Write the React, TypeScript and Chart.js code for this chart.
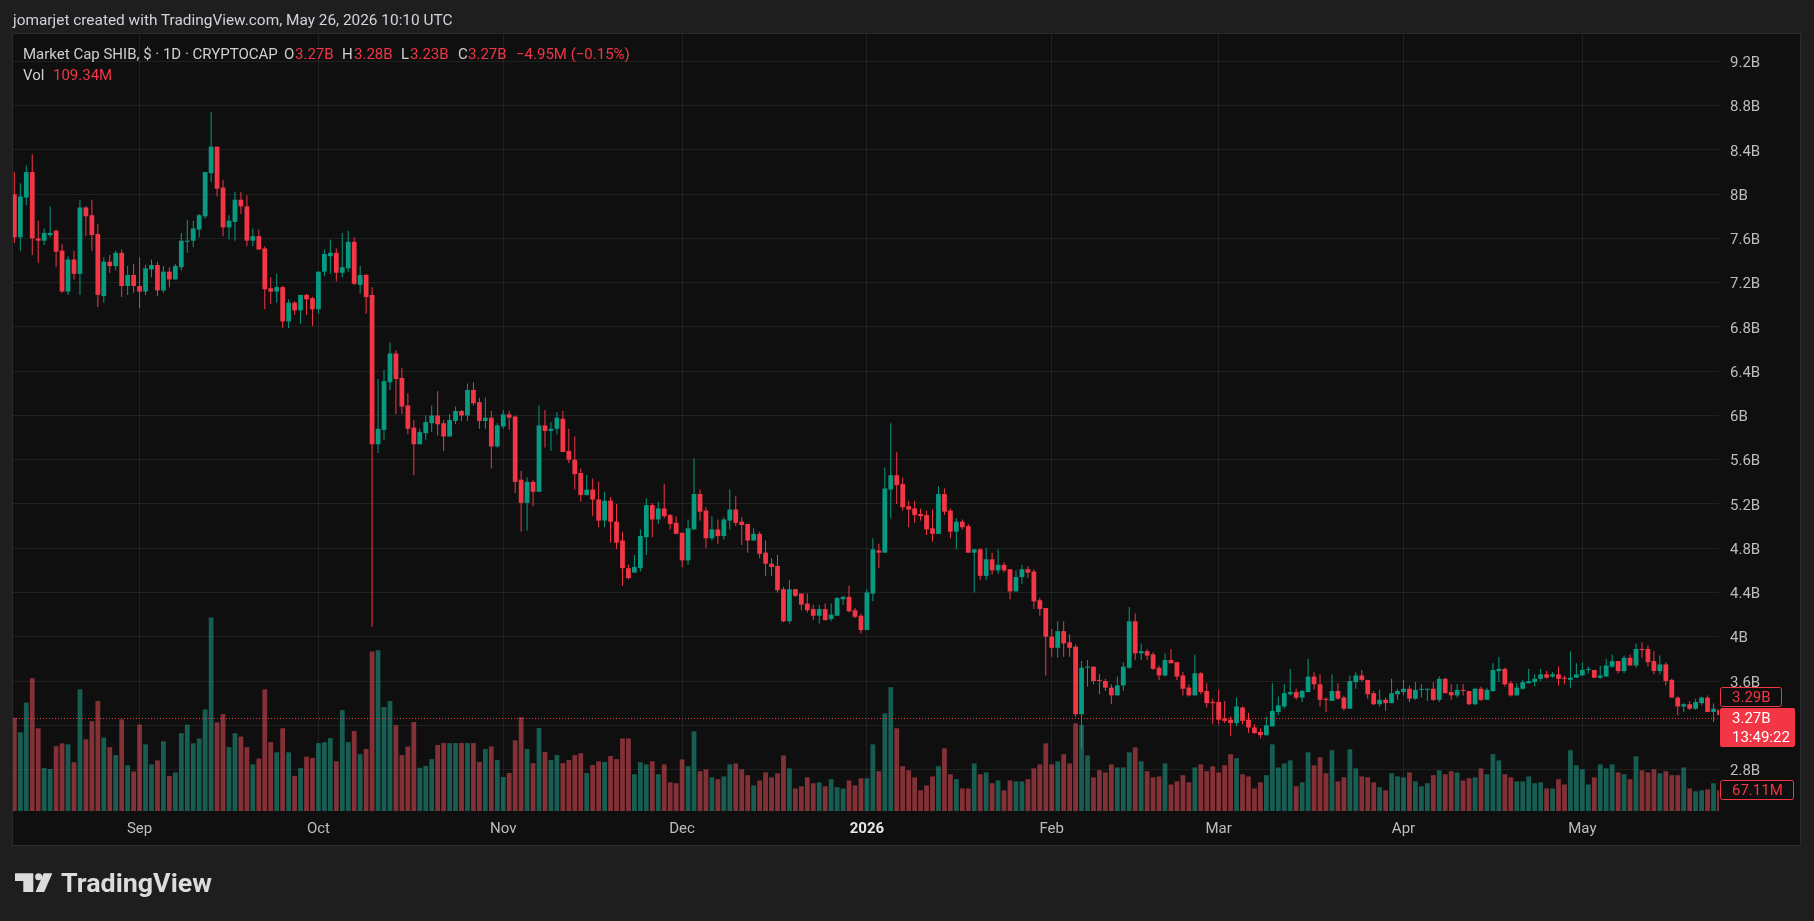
import React, { useEffect, useRef } from 'react';
import { Chart, registerables } from 'chart.js';

Chart.register(...registerables);

// Daily candles, index 0 = 2025-08-11, values in billions of USD
const OPEN = [
  8.00, 7.61, 7.97, 8.20, 7.60, 7.58, 7.63, 7.67, 7.49, 7.12,
  7.41, 7.28, 7.88, 7.81, 7.64, 7.08, 7.39, 7.35, 7.47, 7.17,
  7.27, 7.17, 7.12, 7.32, 7.36, 7.13, 7.30, 7.23, 7.34, 7.57,
  7.58, 7.68, 7.80, 8.19, 8.43, 8.06, 7.70, 7.75, 7.95, 7.89,
  7.58, 7.62, 7.51, 7.15, 7.12, 7.16, 6.85, 7.02, 6.95, 7.09,
  7.06, 6.96, 7.30, 7.44, 7.47, 7.29, 7.33, 7.57, 7.18, 7.27,
  7.09, 5.74, 5.87, 6.30, 6.56, 6.34, 6.09, 5.89, 5.74, 5.84,
  5.93, 6.00, 5.93, 5.81, 5.95, 6.04, 6.00, 6.23, 6.12, 5.95,
  5.98, 5.72, 5.90, 6.01, 5.99, 5.42, 5.21, 5.40, 5.31, 5.91,
  5.86, 5.88, 5.97, 5.68, 5.60, 5.48, 5.28, 5.33, 5.24, 5.05,
  5.23, 5.04, 4.87, 4.62, 4.58, 4.62, 4.90, 5.19, 5.06, 5.16,
  5.10, 5.03, 4.94, 4.69, 4.97, 5.29, 5.14, 4.89, 4.97, 4.91,
  5.05, 5.15, 5.04, 5.02, 4.87, 4.93, 4.76, 4.66, 4.64, 4.43,
  4.14, 4.43, 4.39, 4.30, 4.25, 4.19, 4.25, 4.16, 4.19, 4.34,
  4.36, 4.24, 4.19, 4.06, 4.39, 4.78, 4.76, 5.33, 5.46, 5.38,
  5.18, 5.16, 5.11, 5.10, 4.98, 4.93, 5.29, 5.14, 4.95, 5.04,
  5.00, 4.76, 4.79, 4.55, 4.70, 4.60, 4.65, 4.61, 4.41, 4.54,
  4.61, 4.59, 4.33, 4.26, 4.00, 3.90, 4.05, 3.95, 3.91, 3.30,
  3.72, 3.73, 3.61, 3.60, 3.54, 3.47, 3.56, 3.72, 4.14, 3.85,
  3.87, 3.84, 3.72, 3.65, 3.79, 3.77, 3.65, 3.54, 3.47, 3.67,
  3.51, 3.41, 3.41, 3.26, 3.25, 3.22, 3.36, 3.25, 3.18, 3.14,
  3.11, 3.19, 3.32, 3.37, 3.48, 3.50, 3.45, 3.50, 3.64, 3.57,
  3.44, 3.42, 3.51, 3.45, 3.35, 3.59, 3.65, 3.61, 3.49, 3.39,
  3.43, 3.40, 3.48, 3.50, 3.53, 3.44, 3.52, 3.52, 3.53, 3.43,
  3.62, 3.50, 3.47, 3.52, 3.51, 3.39, 3.53, 3.43, 3.51, 3.69,
  3.71, 3.58, 3.47, 3.53, 3.58, 3.59, 3.62, 3.66, 3.64, 3.66,
  3.63, 3.61, 3.63, 3.65, 3.70, 3.70, 3.63, 3.64, 3.73, 3.78,
  3.69, 3.81, 3.74, 3.89, 3.89, 3.78, 3.69, 3.75, 3.61, 3.45,
  3.37, 3.39, 3.35, 3.40, 3.45, 3.32, 3.34,
];

const HIGH = [
  8.20, 8.10, 8.26, 8.36, 7.76, 7.69, 7.89, 7.68, 7.55, 7.44,
  7.49, 7.95, 7.89, 7.95, 7.73, 7.43, 7.45, 7.49, 7.50, 7.35,
  7.37, 7.43, 7.36, 7.41, 7.39, 7.35, 7.34, 7.37, 7.65, 7.77,
  7.76, 7.82, 8.20, 8.74, 8.43, 8.13, 7.81, 8.02, 8.02, 7.99,
  7.69, 7.68, 7.53, 7.25, 7.28, 7.17, 7.05, 7.03, 7.09, 7.10,
  7.07, 7.30, 7.50, 7.59, 7.51, 7.65, 7.67, 7.61, 7.35, 7.28,
  7.16, 6.33, 6.41, 6.66, 6.59, 6.43, 6.20, 5.96, 5.88, 6.00,
  6.09, 6.22, 5.96, 6.01, 6.08, 6.05, 6.29, 6.30, 6.16, 6.16,
  6.04, 5.93, 6.05, 6.04, 6.00, 5.50, 5.44, 5.42, 6.09, 6.05,
  5.94, 6.03, 6.04, 5.88, 5.81, 5.52, 5.46, 5.43, 5.40, 5.31,
  5.26, 5.20, 4.95, 4.65, 4.74, 4.97, 5.25, 5.21, 5.22, 5.38,
  5.11, 5.09, 4.94, 5.06, 5.61, 5.33, 5.17, 5.09, 5.06, 5.08,
  5.33, 5.27, 5.08, 5.02, 4.98, 4.95, 4.87, 4.71, 4.74, 4.45,
  4.51, 4.43, 4.39, 4.39, 4.29, 4.29, 4.30, 4.30, 4.36, 4.37,
  4.46, 4.26, 4.21, 4.43, 4.89, 4.84, 5.53, 5.93, 5.67, 5.44,
  5.23, 5.23, 5.16, 5.14, 5.15, 5.36, 5.34, 5.16, 5.07, 5.06,
  5.02, 4.79, 4.80, 4.80, 4.76, 4.79, 4.67, 4.61, 4.60, 4.65,
  4.64, 4.61, 4.35, 4.26, 4.07, 4.14, 4.14, 4.02, 3.93, 3.78,
  3.79, 3.73, 3.66, 3.62, 3.57, 3.64, 3.77, 4.27, 4.21, 3.94,
  3.89, 3.86, 3.74, 3.85, 3.89, 3.77, 3.68, 3.57, 3.84, 3.68,
  3.58, 3.44, 3.52, 3.42, 3.28, 3.45, 3.37, 3.31, 3.21, 3.17,
  3.28, 3.58, 3.46, 3.57, 3.71, 3.53, 3.52, 3.80, 3.68, 3.66,
  3.45, 3.66, 3.58, 3.47, 3.65, 3.68, 3.70, 3.61, 3.51, 3.52,
  3.45, 3.62, 3.53, 3.61, 3.56, 3.59, 3.57, 3.53, 3.59, 3.64,
  3.63, 3.57, 3.57, 3.57, 3.51, 3.54, 3.55, 3.54, 3.76, 3.82,
  3.72, 3.60, 3.58, 3.61, 3.71, 3.66, 3.71, 3.69, 3.68, 3.73,
  3.65, 3.87, 3.76, 3.77, 3.73, 3.70, 3.74, 3.80, 3.84, 3.78,
  3.83, 3.84, 3.94, 3.95, 3.92, 3.87, 3.83, 3.77, 3.62, 3.46,
  3.40, 3.42, 3.44, 3.46, 3.47, 3.40, 3.35,
];

const LOW = [
  7.56, 7.49, 7.90, 7.45, 7.38, 7.54, 7.61, 7.34, 7.11, 7.09,
  7.23, 7.09, 7.62, 7.49, 6.98, 7.02, 7.29, 7.31, 7.07, 7.09,
  7.11, 6.97, 7.09, 7.25, 7.08, 7.11, 7.16, 7.23, 7.31, 7.47,
  7.52, 7.61, 7.78, 8.11, 7.98, 7.62, 7.59, 7.58, 7.82, 7.53,
  7.53, 7.50, 6.96, 7.01, 7.02, 6.79, 6.79, 6.91, 6.83, 6.91,
  6.81, 6.92, 7.26, 7.28, 7.21, 7.25, 7.30, 7.18, 7.10, 6.92,
  4.09, 5.66, 5.78, 6.23, 6.01, 6.01, 5.83, 5.46, 5.74, 5.78,
  5.85, 5.82, 5.68, 5.81, 5.92, 5.95, 5.95, 6.09, 5.88, 5.88,
  5.52, 5.71, 5.88, 5.87, 5.30, 4.95, 4.96, 5.18, 5.31, 5.71,
  5.68, 5.83, 5.67, 5.57, 5.33, 5.22, 5.28, 5.09, 4.99, 4.99,
  4.85, 4.79, 4.46, 4.52, 4.58, 4.59, 4.74, 4.90, 5.02, 5.07,
  4.97, 4.93, 4.63, 4.65, 4.97, 5.05, 4.80, 4.87, 4.84, 4.88,
  4.97, 5.00, 4.83, 4.76, 4.87, 4.71, 4.55, 4.55, 4.40, 4.13,
  4.12, 4.36, 4.24, 4.22, 4.15, 4.12, 4.15, 4.14, 4.19, 4.29,
  4.22, 4.17, 4.03, 4.06, 4.32, 4.62, 4.76, 5.07, 5.20, 5.14,
  4.99, 5.03, 5.05, 4.92, 4.86, 4.93, 5.10, 4.89, 4.79, 4.97,
  4.76, 4.40, 4.51, 4.51, 4.56, 4.57, 4.58, 4.34, 4.41, 4.48,
  4.53, 4.25, 4.19, 3.65, 3.82, 3.81, 3.82, 3.82, 3.28, 2.99,
  3.55, 3.57, 3.48, 3.51, 3.39, 3.47, 3.51, 3.71, 3.79, 3.79,
  3.79, 3.70, 3.61, 3.64, 3.76, 3.61, 3.47, 3.46, 3.47, 3.48,
  3.36, 3.21, 3.21, 3.22, 3.10, 3.19, 3.21, 3.13, 3.12, 3.08,
  3.11, 3.19, 3.29, 3.35, 3.47, 3.43, 3.41, 3.50, 3.52, 3.37,
  3.32, 3.42, 3.43, 3.33, 3.35, 3.53, 3.59, 3.44, 3.38, 3.37,
  3.33, 3.40, 3.43, 3.47, 3.41, 3.43, 3.45, 3.42, 3.42, 3.41,
  3.49, 3.43, 3.45, 3.47, 3.38, 3.38, 3.42, 3.43, 3.50, 3.59,
  3.55, 3.46, 3.47, 3.52, 3.58, 3.55, 3.60, 3.62, 3.63, 3.56,
  3.57, 3.54, 3.63, 3.65, 3.67, 3.63, 3.62, 3.64, 3.72, 3.67,
  3.67, 3.74, 3.72, 3.81, 3.73, 3.66, 3.66, 3.56, 3.45, 3.29,
  3.32, 3.34, 3.34, 3.38, 3.32, 3.23, 3.28,
];

const CLOSE = [
  7.61, 7.98, 8.20, 7.60, 7.58, 7.65, 7.65, 7.48, 7.12, 7.41,
  7.28, 7.88, 7.80, 7.63, 7.09, 7.39, 7.35, 7.47, 7.17, 7.27,
  7.17, 7.12, 7.33, 7.36, 7.13, 7.30, 7.23, 7.35, 7.58, 7.58,
  7.69, 7.81, 8.20, 8.43, 8.05, 7.70, 7.76, 7.95, 7.89, 7.58,
  7.62, 7.50, 7.14, 7.12, 7.16, 6.85, 7.02, 6.95, 7.09, 7.05,
  6.96, 7.30, 7.46, 7.47, 7.29, 7.34, 7.57, 7.19, 7.27, 7.07,
  5.74, 5.88, 6.31, 6.56, 6.33, 6.08, 5.88, 5.74, 5.85, 5.94,
  6.00, 5.92, 5.81, 5.96, 6.04, 6.00, 6.23, 6.11, 5.95, 5.98,
  5.72, 5.91, 6.01, 5.98, 5.40, 5.21, 5.40, 5.31, 5.91, 5.86,
  5.88, 5.98, 5.67, 5.60, 5.47, 5.28, 5.33, 5.24, 5.05, 5.23,
  5.04, 4.85, 4.62, 4.53, 4.63, 4.91, 5.19, 5.06, 5.16, 5.09,
  5.02, 4.93, 4.69, 4.98, 5.29, 5.13, 4.89, 4.97, 4.91, 5.06,
  5.15, 5.03, 5.01, 4.87, 4.93, 4.75, 4.66, 4.63, 4.42, 4.14,
  4.43, 4.37, 4.29, 4.24, 4.19, 4.25, 4.15, 4.20, 4.35, 4.36,
  4.23, 4.18, 4.06, 4.40, 4.79, 4.76, 5.34, 5.46, 5.37, 5.17,
  5.15, 5.10, 5.09, 4.97, 4.93, 5.29, 5.13, 4.95, 5.04, 4.99,
  4.76, 4.79, 4.55, 4.70, 4.60, 4.65, 4.60, 4.41, 4.54, 4.61,
  4.58, 4.32, 4.25, 4.00, 3.90, 4.05, 3.94, 3.90, 3.30, 3.72,
  3.73, 3.60, 3.60, 3.54, 3.47, 3.56, 3.73, 4.14, 3.85, 3.87,
  3.83, 3.71, 3.65, 3.79, 3.76, 3.64, 3.53, 3.47, 3.67, 3.50,
  3.40, 3.40, 3.25, 3.24, 3.22, 3.37, 3.24, 3.18, 3.13, 3.11,
  3.20, 3.33, 3.38, 3.49, 3.50, 3.45, 3.51, 3.64, 3.57, 3.43,
  3.43, 3.51, 3.44, 3.35, 3.60, 3.65, 3.61, 3.48, 3.39, 3.43,
  3.40, 3.49, 3.51, 3.53, 3.44, 3.52, 3.525, 3.53, 3.43, 3.62,
  3.49, 3.47, 3.52, 3.51, 3.39, 3.53, 3.43, 3.52, 3.70, 3.71,
  3.57, 3.47, 3.54, 3.59, 3.60, 3.62, 3.66, 3.63, 3.66, 3.62,
  3.62, 3.63, 3.66, 3.70, 3.71, 3.63, 3.65, 3.74, 3.78, 3.69,
  3.81, 3.74, 3.89, 3.88, 3.77, 3.69, 3.75, 3.60, 3.45, 3.37,
  3.39, 3.35, 3.41, 3.45, 3.32, 3.35, 3.29,
];

// Volume, millions of USD
const VOLUME = [
  302, 255, 351, 430, 268, 139, 136, 210, 219, 216,
  158, 394, 232, 291, 356, 238, 207, 181, 297, 148,
  128, 280, 216, 151, 164, 226, 113, 125, 252, 280,
  219, 235, 329, 627, 287, 314, 207, 252, 241, 207,
  151, 170, 394, 223, 190, 268, 190, 113, 139, 176,
  172, 220, 223, 236, 161, 327, 223, 259, 184, 201,
  517, 521, 337, 356, 278, 181, 209, 288, 140, 146,
  168, 214, 220, 220, 220, 220, 220, 220, 159, 201,
  209, 165, 110, 123, 229, 304, 201, 155, 269, 191,
  165, 181, 155, 165, 181, 187, 123, 149, 161, 159,
  178, 168, 235, 235, 119, 158, 151, 161, 119, 151,
  93, 90, 167, 145, 258, 129, 135, 109, 103, 112,
  151, 154, 135, 116, 83, 99, 125, 109, 122, 180,
  138, 73, 80, 109, 90, 93, 80, 103, 77, 73,
  99, 83, 106, 106, 216, 129, 316, 401, 268, 145,
  132, 109, 67, 83, 112, 145, 203, 119, 103, 73,
  73, 154, 119, 125, 90, 99, 67, 99, 96, 96,
  103, 138, 151, 219, 151, 161, 184, 154, 284, 278,
  180, 109, 132, 125, 151, 141, 141, 190, 206, 161,
  129, 109, 112, 154, 86, 96, 116, 93, 141, 151,
  129, 145, 125, 148, 184, 171, 119, 112, 73, 93,
  116, 216, 141, 154, 164, 80, 93, 190, 148, 174,
  122, 197, 96, 109, 200, 138, 112, 109, 93, 77,
  67, 122, 112, 109, 125, 96, 80, 90, 116, 132,
  119, 129, 125, 99, 106, 109, 138, 119, 184, 164,
  119, 109, 96, 96, 112, 90, 93, 73, 73, 103,
  86, 197, 148, 135, 86, 109, 151, 138, 151, 125,
  119, 103, 177, 132, 125, 135, 122, 129, 116, 116,
  141, 73, 64, 67, 70, 90, 67,
];

// Time axis: candle index of the first day of each month
const MONTH_TICKS = [21, 51, 82, 112, 143, 174, 202, 233, 263];
const MONTH_LABELS = ['Sep', 'Oct', 'Nov', 'Dec', '2026', 'Feb', 'Mar', 'Apr', 'May'];
const PRICE_TICKS = [2.8, 3.2, 3.6, 4, 4.4, 4.8, 5.2, 5.6, 6, 6.4, 6.8, 7.2, 7.6, 8, 8.4, 8.8, 9.2];

const LAST_PRICE = 3.27;
const PREV_PRICE = 3.29;
const LAST_VOLUME = 67.11;
const COUNTDOWN = '13:49:22';

const UP = '#089981';
const DOWN = '#f23645';
const VOL_UP = 'rgba(34,171,148,0.5)';
const VOL_DOWN = 'rgba(247,82,95,0.5)';
const GRID = 'rgba(255,255,255,0.075)';
const AXIS_TEXT = '#bdbdbd';
const FONT = 'Roboto, "Noto Sans", sans-serif';

function fmtB(v: number) {
  return `${Number(v.toFixed(2))}B`;
}

const overlayPlugin = {
  id: 'tvOverlay',
  afterDatasetsDraw(chart: any) {
    const { ctx, chartArea, scales } = chart;
    const y = Math.round(scales.y.getPixelForValue(LAST_PRICE)) + 0.5;
    ctx.save();
    ctx.strokeStyle = DOWN;
    ctx.lineWidth = 1;
    ctx.setLineDash([1, 2]);
    ctx.beginPath();
    ctx.moveTo(chartArea.left, y);
    ctx.lineTo(chartArea.right, y);
    ctx.stroke();
    ctx.restore();
  },
  afterDraw(chart: any) {
    const { ctx, chartArea, scales } = chart;
    const x0 = chartArea.right + 1;
    ctx.save();
    ctx.font = `15px ${FONT}`;
    ctx.textBaseline = 'middle';
    ctx.textAlign = 'left';

    const rr = (x: number, y: number, w: number, h: number, r: number) => {
      ctx.beginPath();
      ctx.moveTo(x + r, y);
      ctx.lineTo(x + w - r, y);
      ctx.quadraticCurveTo(x + w, y, x + w, y + r);
      ctx.lineTo(x + w, y + h - r);
      ctx.quadraticCurveTo(x + w, y + h, x + w - r, y + h);
      ctx.lineTo(x + r, y + h);
      ctx.quadraticCurveTo(x, y + h, x, y + h - r);
      ctx.lineTo(x, y + r);
      ctx.quadraticCurveTo(x, y, x + r, y);
      ctx.closePath();
    };

    // current price box
    const yP = scales.y.getPixelForValue(LAST_PRICE);
    const top = Math.round(yP - 10);
    ctx.fillStyle = DOWN;
    rr(x0, top, 75, 39, 2);
    ctx.fill();
    ctx.fillStyle = '#ffffff';
    ctx.fillText(fmtB(LAST_PRICE), x0 + 12, top + 11);
    ctx.fillText(COUNTDOWN, x0 + 12, top + 30);

    // previous close box (pushed above the current price box)
    const t2 = top - 21;
    const label2 = fmtB(PREV_PRICE);
    const w2 = Math.round(ctx.measureText(label2).width + 22);
    ctx.fillStyle = '#0f0f0f';
    rr(x0 + 0.5, t2 + 0.5, w2, 19, 2);
    ctx.fill();
    ctx.strokeStyle = DOWN;
    ctx.lineWidth = 1;
    ctx.stroke();
    ctx.fillStyle = DOWN;
    ctx.fillText(label2, x0 + 12, t2 + 11);

    // volume box
    const yV = scales.vol.getPixelForValue(LAST_VOLUME);
    const t3 = Math.round(yV - 10);
    const label3 = `${LAST_VOLUME.toFixed(2)}M`;
    const w3 = Math.round(ctx.measureText(label3).width + 22);
    ctx.fillStyle = '#0f0f0f';
    rr(x0 + 0.5, t3 + 0.5, w3, 19, 2);
    ctx.fill();
    ctx.strokeStyle = DOWN;
    ctx.stroke();
    ctx.fillStyle = DOWN;
    ctx.fillText(label3, x0 + 12, t3 + 11);
    ctx.restore();
  },
};

export default function App() {
  const ref = useRef<HTMLCanvasElement | null>(null);

  useEffect(() => {
    const idx = OPEN.map((_, i) => i);
    const up = idx.map((i) => CLOSE[i] >= OPEN[i]);
    const candleColors = up.map((u) => (u ? UP : DOWN));
    const volColors = up.map((u) => (u ? VOL_UP : VOL_DOWN));

    const chart = new Chart(ref.current as HTMLCanvasElement, {
      type: 'bar',
      data: {
        datasets: [
          {
            label: 'body',
            order: 0,
            yAxisID: 'y',
            data: idx.map((i) => ({ x: i, y: [OPEN[i], CLOSE[i]] })) as any,
            backgroundColor: candleColors,
            borderWidth: 0,
            barPercentage: 0.8,
            categoryPercentage: 1,
            grouped: false,
            minBarLength: 1,
            clip: 0,
          } as any,
          {
            label: 'wick',
            order: 1,
            yAxisID: 'y',
            data: idx.map((i) => ({ x: i, y: [LOW[i], HIGH[i]] })) as any,
            backgroundColor: candleColors,
            borderWidth: 0,
            barThickness: 1,
            inflateAmount: 0,
            grouped: false,
            clip: 0,
          } as any,
          {
            label: 'volume',
            order: 2,
            yAxisID: 'vol',
            data: idx.map((i) => ({ x: i, y: VOLUME[i] })) as any,
            backgroundColor: volColors,
            borderWidth: 0,
            barPercentage: 0.8,
            categoryPercentage: 1,
            grouped: false,
            clip: 0,
          } as any,
        ],
      },
      options: {
        responsive: false,
        animation: false,
        events: [],
        layout: { padding: 0 },
        plugins: {
          legend: { display: false },
          tooltip: { enabled: false },
        },
        scales: {
          x: {
            type: 'linear',
            min: -0.23,
            max: 285.92,
            offset: false,
            border: { display: false },
            grid: { color: GRID, drawTicks: false, offset: false },
            afterBuildTicks: (s: any) => {
              s.ticks = MONTH_TICKS.map((v) => ({ value: v }));
            },
            afterFit: (s: any) => {
              s.height = 34;
              s.paddingLeft = 0;
              s.paddingRight = 0;
            },
            ticks: {
              autoSkip: false,
              maxRotation: 0,
              padding: 9,
              color: (c: any) => (c.tick && c.tick.value === 143 ? '#e6e6e6' : AXIS_TEXT),
              font: (c: any) => ({
                family: FONT,
                size: 15,
                weight: c.tick && c.tick.value === 143 ? 'bold' : 'normal',
              }),
              callback: (v: any) => {
                const k = MONTH_TICKS.indexOf(Number(v));
                return k >= 0 ? MONTH_LABELS[k] : '';
              },
            },
          },
          y: {
            type: 'linear',
            position: 'right',
            min: 2.425,
            max: 9.448,
            border: { display: false },
            grid: { color: GRID, drawTicks: false },
            afterBuildTicks: (s: any) => {
              s.ticks = PRICE_TICKS.map((v) => ({ value: v }));
            },
            afterFit: (s: any) => {
              s.width = 81;
              s.paddingTop = 0;
              s.paddingBottom = 0;
            },
            ticks: {
              padding: 11,
              labelOffset: 2,
              color: AXIS_TEXT,
              font: { family: FONT, size: 15 },
              callback: (v: any) => `${Number(Number(v).toFixed(1))}B`,
            },
          },
          vol: {
            type: 'linear',
            display: false,
            min: 0,
            max: 2517,
          },
        },
      } as any,
      plugins: [overlayPlugin],
    });
    return () => chart.destroy();
  }, []);

  const legendY = 59;
  return (
    <div
      style={{
        position: 'fixed',
        left: 0,
        top: 0,
        width: 1814,
        height: 921,
        background: '#1e1e1e',
        overflow: 'hidden',
      }}
    >
      <div
        style={{
          position: 'absolute',
          left: 12,
          top: 33,
          width: 1789,
          height: 813,
          border: '1px solid #2b2b2b',
          boxSizing: 'border-box',
          background: '#0f0f0f',
        }}
      >
        <canvas ref={ref} width={1787} height={811} style={{ display: 'block', width: 1787, height: 811 }} />
      </div>
      <svg
        width={1814}
        height={921}
        style={{ position: 'absolute', left: 0, top: 0, pointerEvents: 'none' }}
        fontFamily={FONT}
      >
        <text x={13} y={24.5} fontSize={15.4} fill="#d1d4dc">
          jomarjet created with TradingView.com, May 26, 2026 10:10 UTC
        </text>
        <g fontSize={15}>
          <text x={23} y={legendY} fill="#cfcfcf">Market Cap SHIB, $ · 1D · CRYPTOCAP</text>
          <text x={284} y={legendY} fill="#cfcfcf">O</text>
          <text x={295} y={legendY} fill={DOWN}>3.27B</text>
          <text x={342} y={legendY} fill="#cfcfcf">H</text>
          <text x={354} y={legendY} fill={DOWN}>3.28B</text>
          <text x={401} y={legendY} fill="#cfcfcf">L</text>
          <text x={410} y={legendY} fill={DOWN}>3.23B</text>
          <text x={458} y={legendY} fill="#cfcfcf">C</text>
          <text x={468} y={legendY} fill={DOWN}>3.27B</text>
          <text x={516} y={legendY} fill={DOWN}>−4.95M (−0.15%)</text>
          <text x={23} y={80} fill="#cfcfcf">Vol</text>
          <text x={53} y={80} fill={DOWN}>109.34M</text>
        </g>
        <g fill="#dcdcdc">
          <path d="M15 873.3 H33.3 V892 H23.3 V881 H15 Z" />
          <circle cx={38.6} cy={876.8} r={3.5} />
          <path d="M43.6 873.3 H52.3 L44.2 892 H35.6 Z" />
          <text x={61} y={892} fontSize={26} fontWeight={700} textLength={151} lengthAdjust="spacingAndGlyphs">
            TradingView
          </text>
        </g>
      </svg>
    </div>
  );
}
